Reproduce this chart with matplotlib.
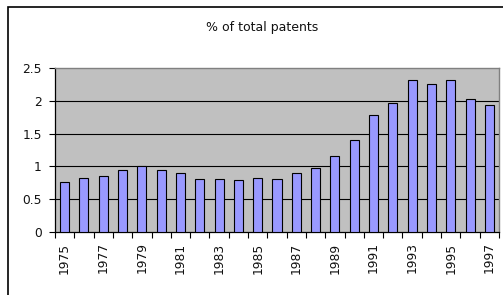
import matplotlib
matplotlib.use("Agg")
import matplotlib.pyplot as plt
from matplotlib.patches import Rectangle
import numpy as np

years = list(range(1975, 1998))
values = [0.76, 0.83, 0.85, 0.95, 1.00, 0.95, 0.90, 0.81, 0.81, 0.79, 0.83,
          0.81, 0.90, 0.97, 1.16, 1.40, 1.79, 1.96, 2.31, 2.25, 2.31, 2.03, 1.94]
yticks = [0, 0.5, 1, 1.5, 2, 2.5]
ytick_labels = ["0", "0.5", "1", "1.5", "2", "2.5"]
title = "% of total patents"

W, H = 503, 295
fig = plt.figure(figsize=(W / 100, H / 100), dpi=100)
fig.patch.set_facecolor("white")
plt.rcParams['font.family'] = ['DejaVu Sans']

# outer chart frame
fig.patches.append(Rectangle((8 / W, -0.05), 1.2, 1 - 7 / H + 0.05,
                             transform=fig.transFigure, fill=False,
                             edgecolor="black", lw=1.2, clip_on=False))

ax = fig.add_axes([55 / W, 1 - 232 / H, (499 - 55) / W, (232 - 68) / H])
ax.set_facecolor("#C0C0C0")
x = np.arange(len(years))
ax.bar(x, values, width=0.47, color="#9999FF", edgecolor="black", linewidth=0.8, zorder=3)
ax.set_xlim(-0.5, len(years) - 0.5)
ax.set_ylim(0, 2.5)
ax.set_yticks(yticks)
ax.set_yticklabels(ytick_labels, fontsize=8.8, color="#111111")
for yv in yticks[1:-1]:
    ax.axhline(yv, color="black", lw=0.8, zorder=2)

ax.set_xticks(x[::2])
ax.set_xticklabels([str(y) for y in years[::2]], rotation=90, fontsize=8.8, color="#111111")
ax.tick_params(axis="x", which="major", length=0, pad=7.5)
ax.set_xticks(np.arange(-0.5, len(years)), minor=True)
ax.tick_params(axis="x", which="minor", length=4, width=0.8, direction="out")
ax.tick_params(axis="y", length=4, width=0.8, pad=5.5)

for s in ["top", "right"]:
    ax.spines[s].set_color("#808080")
    ax.spines[s].set_linewidth(1)
for s in ["left", "bottom"]:
    ax.spines[s].set_color("black")
    ax.spines[s].set_linewidth(0.9)

fig.text(262 / W, 1 - 27 / H, title, ha="center", va="center", fontsize=9, color="#111111")

fig.savefig("out.png", dpi=100)
